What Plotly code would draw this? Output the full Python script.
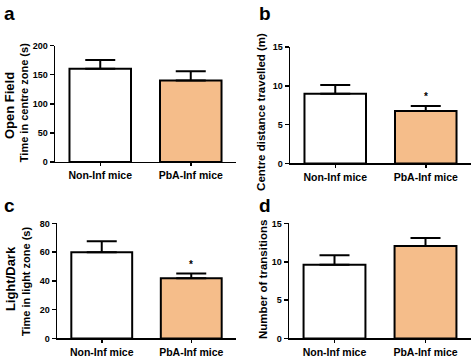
import plotly.graph_objects as go

W, H = 472, 358

groups = ["Non-Inf mice", "PbA-Inf mice"]
fill_colors = ["#FFFFFF", "#F5BD8A"]

# panel a: Open Field - time in centre zone (s)
a_mean = [160, 140]
a_sem = [15, 16]
# panel b: centre distance travelled (m)
b_mean = [9.0, 6.75]
b_sem = [1.1, 0.65]
# panel c: Light/Dark - time in light zone (s)
c_mean = [60, 41.8]
c_sem = [7.6, 3.3]
# panel d: number of transitions
d_mean = [9.6, 12.05]
d_sem = [1.25, 1.05]

a_ticks = [0, 50, 100, 150, 200]
b_ticks = [0, 5, 10, 15]
c_ticks = [0, 20, 40, 60, 80]
d_ticks = [0, 5, 10, 15]

sig_b = ["", "*"]
sig_c = ["", "*"]

FONT = "Liberation Sans, Arial, sans-serif"


def px(x):
    return x / W


def py(y):
    return 1 - y / H


panels = [
    # key, mean, sem, ticks, x-domain px, y-domain px (top, bottom), sig
    ("", a_mean, a_sem, a_ticks, (55, 236), (41.7, 161.5), None),
    ("2", b_mean, b_sem, b_ticks, (290, 471), (43.3, 163), sig_b),
    ("3", c_mean, c_sem, c_ticks, (57, 236), (224.7, 343), sig_c),
    ("4", d_mean, d_sem, d_ticks, (289, 471), (224.7, 343), None),
]

fig = go.Figure()
annotations = []
layout = {}

for key, mean, sem, ticks, xd, yd, sig in panels:
    xs = list(range(len(groups)))
    fig.add_trace(go.Bar(
        x=xs, y=mean, width=0.68,
        marker=dict(color=fill_colors, line=dict(color="black", width=2)),
        error_y=dict(type="data", symmetric=False, array=sem,
                     arrayminus=[0] * len(sem), color="black",
                     thickness=2, width=15),
        xaxis="x" + key, yaxis="y" + key, showlegend=False,
        hoverinfo="skip",
    ))
    layout["xaxis" + key] = dict(
        domain=[px(xd[0]), px(xd[1])], anchor="y" + key,
        range=[-0.5, 1.5], tickvals=xs, ticktext=groups,
        showline=True, linecolor="black", linewidth=1.5,
        ticks="outside", ticklen=3, tickwidth=1.5, tickcolor="black",
        showgrid=False, zeroline=False,
        tickfont=dict(family=FONT, size=10.5, color="black", weight="bold"),
    )
    layout["yaxis" + key] = dict(
        domain=[py(yd[1]), py(yd[0])], anchor="x" + key,
        range=[ticks[0], ticks[-1]], tickvals=ticks,
        showline=True, linecolor="black", linewidth=1.5,
        ticks="outside", ticklen=4, tickwidth=1.5, tickcolor="black",
        showgrid=False, zeroline=False,
        tickfont=dict(family=FONT, size=9, color="black", weight="bold"),
    )
    if sig:
        for i, s in enumerate(sig):
            if s:
                annotations.append(dict(
                    x=i, y=mean[i] + sem[i], xref="x" + key, yref="y" + key,
                    text=s, showarrow=False, yanchor="bottom", yshift=2,
                    font=dict(family=FONT, size=10, color="black", weight="bold"),
                ))

# panel letters
for letter, x, y in [("a", 2, 17), ("b", 257, 17), ("c", 2, 215), ("d", 257, 215)]:
    annotations.append(dict(
        x=px(x), y=py(y), xref="paper", yref="paper", text=letter,
        showarrow=False, xanchor="left", yanchor="bottom", yshift=-4,
        font=dict(family=FONT, size=19, color="black", weight="bold"),
    ))

# axis titles (rotated)
titles = [
    ("Open Field", 9, 104, 13),
    ("Time in centre zone (s)", 24, 101, 11),
    ("Centre distance travelled (m)", 261, 110, 11.5),
    ("Light/Dark", 10, 282, 13),
    ("Time in light zone (s)", 26, 284, 11),
    ("Number of transitions", 263, 283, 11.5),
]
for text, x, y, size in titles:
    annotations.append(dict(
        x=px(x), y=py(y), xref="paper", yref="paper", text=text,
        showarrow=False, textangle=-90, xanchor="center", yanchor="middle",
        font=dict(family=FONT, size=size, color="black", weight="bold"),
    ))

fig.update_layout(
    width=W, height=H, margin=dict(l=0, r=0, t=0, b=0),
    paper_bgcolor="white", plot_bgcolor="white",
    annotations=annotations, **layout,
)

fig.write_html(
    "out.html",
    config={"displayModeBar": False, "staticPlot": True},
    post_script="document.body.style.margin='0px';document.body.style.overflow='hidden';",
)
